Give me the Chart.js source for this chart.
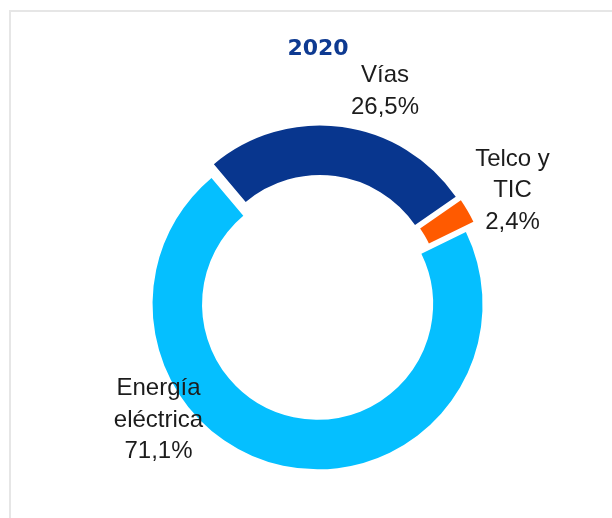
<!DOCTYPE html>
<html>
<head>
<meta charset="utf-8">
<script src="https://cdn.jsdelivr.net/npm/chart.js@4/dist/chart.umd.min.js"></script>
<style>
  html, body { margin: 0; padding: 0; background: #fff; overflow: hidden; }
  #wrap { position: relative; width: 612px; height: 518px; overflow: hidden; }
  #frame { position: absolute; left: 9px; top: 10px; width: 700px; height: 600px;
           border-left: 2px solid #e6e6e6; border-top: 2px solid #e6e6e6; }
  canvas { position: absolute; left: 0; top: 0; }
</style>
</head>
<body>
<div id="wrap">
  <div id="frame"></div>
  <canvas id="chart" width="612" height="518"></canvas>
</div>
<script>
// Chart data
const chartTitle = '2020';
const categories = [['Vías'], ['Telco y', 'TIC'], ['Energía', 'eléctrica']];
const shares = [26.5, 2.4, 71.1];
const sliceColors = ['#08368E', '#FF5A00', '#05BFFF'];

// Label block anchors (first baseline), relative to the ring centre
const labelAnchors = [
  { dx: 66, dy: -215.5 },
  { dx: 193.5, dy: -132 },
  { dx: -160.5, dy: 97.5 }
];

const fmtPct = v => v.toFixed(1).replace('.', ',') + '%';

// Pull every slice outward along its bisector
const explodePlugin = {
  id: 'explode',
  beforeDatasetDraw(chart, args, opts) {
    const ctx = chart.ctx;
    args.meta.data.forEach(arc => {
      const mid = (arc.startAngle + arc.endAngle) / 2;
      ctx.save();
      ctx.translate(Math.cos(mid) * opts.distance, Math.sin(mid) * opts.distance);
      arc.draw(ctx);
      ctx.restore();
    });
    return false;
  }
};

// Title and slice labels
const textPlugin = {
  id: 'sliceText',
  afterDraw(chart, args, opts) {
    const ctx = chart.ctx;
    const arcs = chart.getDatasetMeta(0).data;
    const cx = arcs[0].x, cy = arcs[0].y;
    ctx.save();
    ctx.textAlign = 'center';
    ctx.textBaseline = 'alphabetic';

    ctx.fillStyle = opts.titleColor;
    ctx.font = opts.titleFont;
    ctx.fillText(chartTitle, cx - 1, opts.titleBaseline);

    ctx.fillStyle = opts.color;
    ctx.font = opts.font;
    const values = chart.data.datasets[0].data;
    chart.data.labels.forEach((lab, i) => {
      const lines = lab.concat([fmtPct(values[i])]);
      const a = labelAnchors[i];
      lines.forEach((t, k) => {
        ctx.fillText(t, cx + a.dx, cy + a.dy + k * opts.lineHeight);
      });
    });
    ctx.restore();
  }
};

new Chart(document.getElementById('chart'), {
  type: 'doughnut',
  data: {
    labels: categories,
    datasets: [{
      data: shares,
      backgroundColor: sliceColors,
      borderWidth: 0,
      hoverOffset: 0
    }]
  },
  options: {
    responsive: false,
    animation: false,
    events: [],
    rotation: -40,
    radius: 165,
    cutout: '70%',
    layout: { padding: { left: 26, right: 0, top: 77, bottom: 0 } },
    plugins: {
      legend: { display: false },
      tooltip: { enabled: false },
      title: { display: false },
      explode: { distance: 7 },
      sliceText: {
        font: '24px "Liberation Sans", Arial, sans-serif',
        color: '#1c1c1c',
        lineHeight: 31.5,
        titleFont: 'bold 22px "DejaVu Sans", Verdana, sans-serif',
        titleColor: '#0E3A91',
        titleBaseline: 55
      }
    }
  },
  plugins: [explodePlugin, textPlugin]
});
</script>
</body>
</html>
